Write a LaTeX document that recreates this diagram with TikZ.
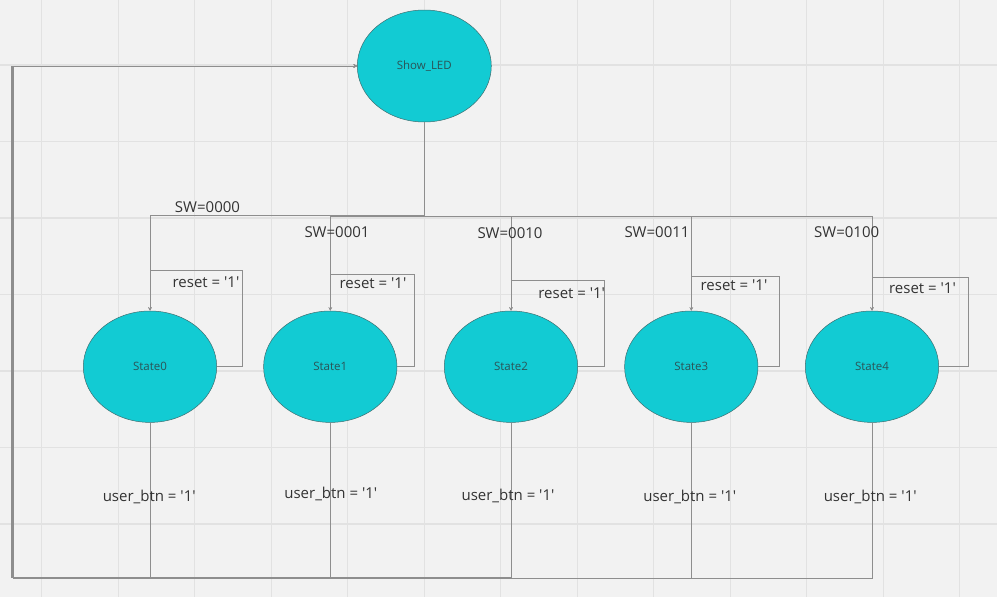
\documentclass[tikz,border=0pt]{standalone}
\usepackage{fontspec}
\setmainfont{Open Sans}[Ligatures=TeXOff]
\usetikzlibrary{arrows.meta,shapes.geometric}
\definecolor{bg}{HTML}{F2F2F2}
\definecolor{gridc}{HTML}{E2E2E2}
\definecolor{cyanfill}{HTML}{12CBD3}
\definecolor{edgec}{HTML}{3E6E70}
\definecolor{linec}{HTML}{8E8E8E}
\definecolor{statetext}{HTML}{2B5356}
\definecolor{labtext}{HTML}{333333}
\tikzset{
  statenode/.style={ellipse, draw=edgec, line width=0.5pt, fill=cyanfill,
    minimum width=133.4pt, minimum height=111.4pt, inner sep=0pt,
    text=statetext, font=\fontsize{11.5}{13}\selectfont},
  conn/.style={draw=linec, line width=1pt},
  arr/.style={-{Stealth[length=3.5pt,width=3.5pt]}},
  lab/.style={inner sep=0pt, text=labtext, font=\fontsize{15}{18}\selectfont},
  gridline/.style={draw=gridc, line width=1.2pt}
}
\begin{document}
\begin{tikzpicture}[x=1pt,y=-1pt]
\useasboundingbox (0,0) rectangle (997,597);
\fill[bg] (0,0) rectangle (997,597);
\foreach \k in {0,...,12} \draw[gridline] ({41.7+76.5*\k},0) -- ({41.7+76.5*\k},597);
\foreach \k in {0,...,6} \draw[gridline] (0,{65+76.5*\k}) -- (997,{65+76.5*\k});

\node[statenode, minimum width=134pt, minimum height=112pt] (show) at (424.3,66) {Show\_LED};
\node[statenode] (s0) at (150,366.7) {State0};
\node[statenode] (s1) at (330.3,366.7) {State1};
\node[statenode] (s2) at (511,366.7) {State2};
\node[statenode] (s3) at (691.3,366.7) {State3};
\node[statenode] (s4) at (872,366.7) {State4};

% bus coordinates
\coordinate (b0) at (150,215);
\coordinate (b1) at (330.3,216);
\coordinate (b2) at (511,216.5);
\coordinate (b3) at (691.3,216);
\coordinate (b4) at (872,216);
% reset loop corners
\coordinate (l0) at (242,270);
\coordinate (l1) at (414.7,274.3);
\coordinate (l2) at (604.3,280);
\coordinate (l3) at (779.3,276.7);
\coordinate (l4) at (968.3,277.7);
% return path corners
\coordinate (r0) at (11.2,577.2);
\coordinate (r1) at (11.8,577.6);
\coordinate (r2) at (12.4,577.9);
\coordinate (r3) at (13.0,578.2);
\coordinate (r4) at (13.6,578.5);

\foreach \i in {0,...,4} {
  \draw[conn,arr] (show.south) |- (b\i) -- (s\i.north);
  \draw[conn,arr] (s\i.east) -| (l\i) -| (s\i.north);
  \draw[conn,arr] (s\i.south) |- (r\i) |- (show.west);
}

\node[lab] (sw0) at (207.5,206.7) {SW=0000};
\node[lab] (sw1) at (337,232.3) {SW=0001};
\node[lab] (sw2) at (510,233) {SW=0010};
\node[lab] (sw3) at (657,232.3) {SW=0011};
\node[lab] (sw4) at (846.7,232.3) {SW=0100};

\node[lab] (rs0) at (206,282) {reset = '1'};
\node[lab] (rs1) at (373,283.3) {reset = '1'};
\node[lab] (rs2) at (571.7,293.3) {reset = '1'};
\node[lab] (rs3) at (734,285) {reset = '1'};
\node[lab] (rs4) at (922.5,288.3) {reset = '1'};

\node[lab] (ub0) at (149.2,496.7) {user\_btn = '1'};
\node[lab] (ub1) at (330.8,494) {user\_btn = '1'};
\node[lab] (ub2) at (508,496) {user\_btn = '1'};
\node[lab] (ub3) at (689.8,496.7) {user\_btn = '1'};
\node[lab] (ub4) at (870.2,496.7) {user\_btn = '1'};
\end{tikzpicture}
\end{document}
